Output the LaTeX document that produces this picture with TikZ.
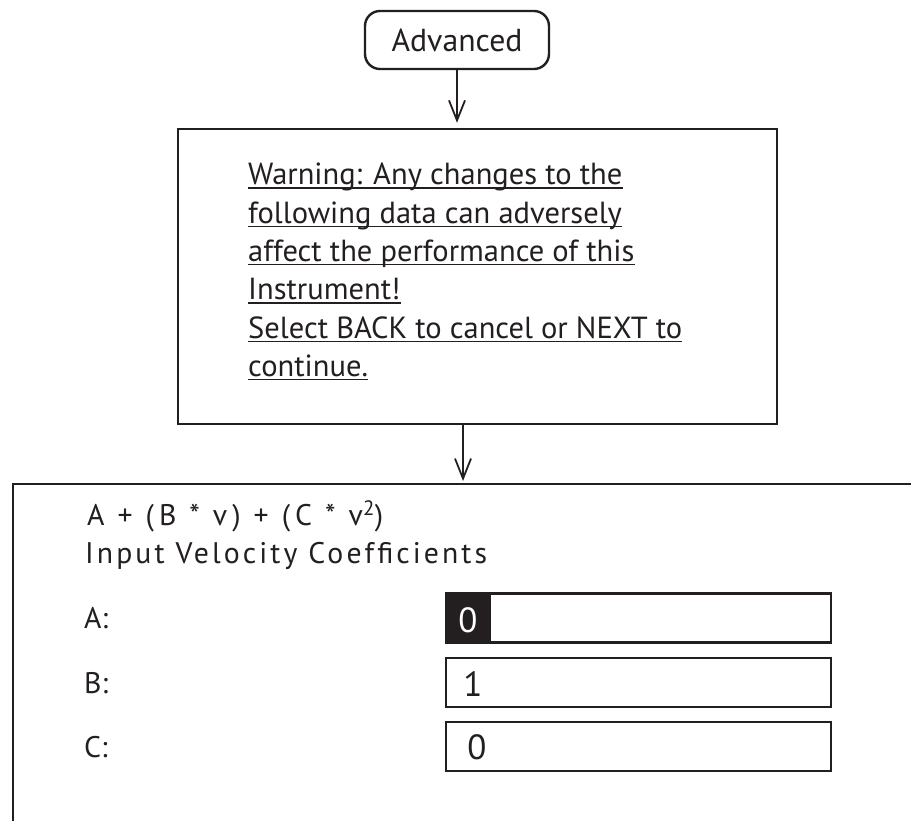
\documentclass[tikz,border=0pt]{standalone}
\usepackage{fontspec}
\setmainfont{PT Sans}
\usetikzlibrary{arrows.meta,calc}
\definecolor{ink}{RGB}{35,31,32}
\newlength\mylen
\newcommand\formulatext{A + (B * v) + (C * v\textsuperscript{2})}
\newcommand\headtext{Input Velocity Coefficients}
\tikzset{
  frame/.style={draw=ink, line width=2.4pt, inner sep=0pt},
  advbox/.style={frame, rounded corners=15pt, text=ink},
  warnline/.style={anchor=base west, inner sep=0pt, text=ink},
  panelt/.style={anchor=base west, inner sep=0pt, text=ink},
  inbox/.style={frame, minimum width=385pt, minimum height=49pt},
  digit/.style={anchor=base, inner sep=0pt, font=\fontsize{35}{40}\selectfont},
  conn/.style={draw=ink, line width=1.8pt, -{Straight Barb[length=20pt,width=16pt]}},
  uline/.style={draw=ink, line width=1.4pt}
}
\begin{document}
% font sizes fitted to the measured widths
\settowidth\mylen{\fontsize{10}{12}\selectfont Select BACK to cancel or NEXT to}%
\pgfmathsetmacro\wfs{10*434/\mylen}%
\settowidth\mylen{\fontsize{10}{12}\selectfont Advanced}%
\pgfmathsetmacro\afs{10*131/\mylen}%
\pgfmathsetmacro\pfs{0.975*\wfs}%
% letter spacing fitted for the formula (296pt) and heading (402pt)
\settowidth\mylen{\fontsize{\pfs}{\pfs}\selectfont\formulatext}%
\pgfmathsetmacro\fwz{\mylen}%
\settowidth\mylen{\fontsize{\pfs}{\pfs}\selectfont\addfontfeature{LetterSpace=10}\formulatext}%
\pgfmathsetmacro\fls{max(0,10*(296-\fwz)/(\mylen-\fwz))}%
\settowidth\mylen{\fontsize{\pfs}{\pfs}\selectfont\headtext}%
\pgfmathsetmacro\hwz{\mylen}%
\settowidth\mylen{\fontsize{\pfs}{\pfs}\selectfont\addfontfeature{LetterSpace=10}\headtext}%
\pgfmathsetmacro\hls{max(0,10*(402-\hwz)/(\mylen-\hwz))}%
\edef\ffeat{LetterSpace=\fls}%
\edef\hfeat{LetterSpace=\hls}%
\begin{tikzpicture}[x=1pt,y=-1pt]
\clip (0,0) rectangle (911,821);
\fill[white] (0,0) rectangle (911,821);
% top box
\node[advbox, minimum width=184pt, minimum height=58pt, font=\fontsize{\afs}{\afs}\selectfont] (adv) at (457,40) {Advanced};
% warning box
\node[frame, minimum width=599pt, minimum height=295pt] (warn) at (477.5,276.5) {};
\foreach \n/\y/\t in {w1/185/{Warning: Any changes to the},
                      w2/223.3/{following data can adversely},
                      w3/261.6/{affect the performance of this},
                      w4/300/{Instrument!},
                      w5/338.3/{Select BACK to cancel or NEXT to},
                      w6/376.6/{continue.}}{
  \node[warnline, font=\fontsize{\wfs}{\wfs}\selectfont] (\n) at (248,\y) {\t};
  \draw[uline] ($(\n.base west)+(0,3)$) -- ($(\n.base east)+(0,3)$);
}
% bottom panel (cut by the picture edges)
\node[frame, minimum width=1000pt, minimum height=420pt, anchor=north west] (panel) at (12,483) {};
\node[panelt, font=\fontsize{\pfs}{\pfs}\selectfont] (formula) at (87,525) {\expandafter\addfontfeature\expandafter{\ffeat}\formulatext};
\node[panelt, font=\fontsize{\pfs}{\pfs}\selectfont] (head) at (85,563.5) {\expandafter\addfontfeature\expandafter{\hfeat}\headtext};
\node[panelt, font=\fontsize{\pfs}{\pfs}\selectfont] (la) at (84,628) {A:};
\node[panelt, font=\fontsize{\pfs}{\pfs}\selectfont] (lb) at (84,693) {B:};
\node[panelt, font=\fontsize{\pfs}{\pfs}\selectfont] (lc) at (84,757) {C:};
\node[inbox] (ina) at (638.5,618) {};
\node[inbox] (inb) at (638.5,682.5) {};
\node[inbox] (inc) at (638.5,746.5) {};
\fill[ink] (ina.north west) rectangle ($(ina.south west)+(46,0)$);
\node[digit, text=white] (da) at (468,632) {0};
\node[digit, text=ink] (db) at (473,696) {1};
\node[digit, text=ink] (dc) at (477,759) {0};
% connectors
\draw[conn, shorten >=5pt] (adv.south) -- (adv.south |- warn.north);
\coordinate (a2) at (463,0);
\draw[conn, shorten >=2pt] (warn.south -| a2) -- (panel.north -| a2);
\end{tikzpicture}
\end{document}
